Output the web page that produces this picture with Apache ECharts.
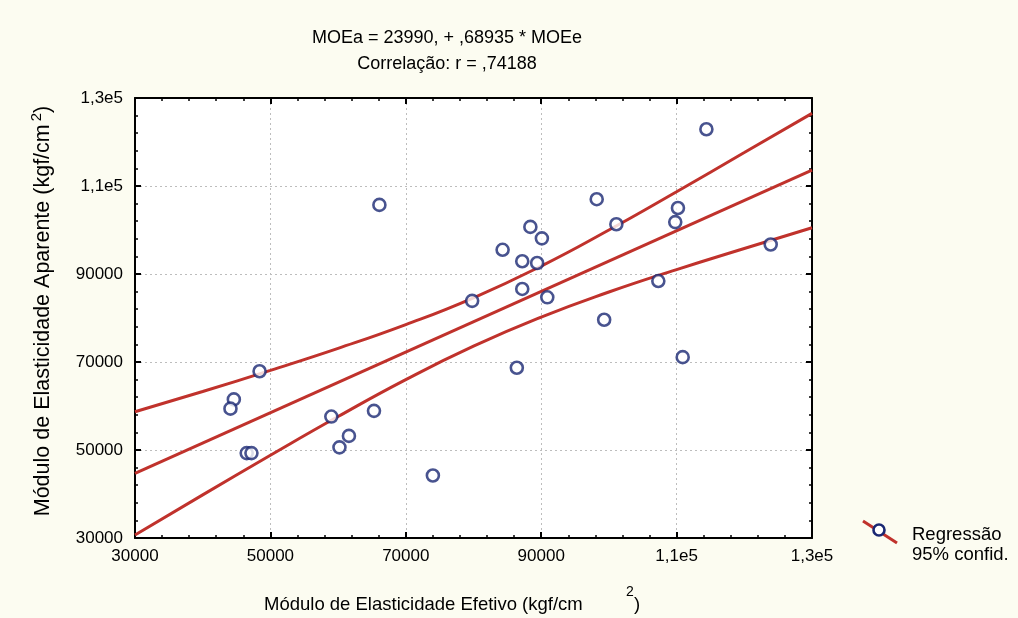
<!DOCTYPE html>
<html>
<head>
<meta charset="utf-8">
<script src="https://cdn.jsdelivr.net/npm/echarts@6/dist/echarts.min.js"></script>
<style>
  html, body { margin: 0; padding: 0; background: #fcfcf1; }
  #main { width: 1018px; height: 618px; }
</style>
</head>
<body>
<div id="main"></div>
<script>
// pontos medidos (MOEe, MOEa)
const moeE = [66100, 114400, 98200, 110200, 109800, 101100, 123900, 88400, 90100, 84300,
  87200, 89400, 79800, 87200, 90900, 107300, 99300, 86400, 110900, 48400,
  44600, 44100, 46500, 47200, 59000, 65300, 61600, 60200, 74000]
const moeA = [105700, 122900, 107000, 105000, 101800, 101300, 96700, 100700, 98100, 95500,
  92900, 92500, 83900, 86600, 84700, 88400, 79600, 68700, 71100, 67900,
  61500, 59400, 49300, 49300, 57600, 58900, 53200, 50600, 44200]

// reta de regressão: MOEa = 23990 + 0,68935 * MOEe
const regX = [30000, 130000]
const regY = [44670, 113606]

// faixas de confiança 95%
const bandX = [30000, 40000, 50000, 60000, 70000, 80000, 90000, 100000, 110000, 120000, 130000]
const bandUpper = [58700, 63300, 68100, 73100, 78500, 84600, 91800, 100000, 108700, 117600, 126500]
const bandLower = [30700, 39800, 48800, 57600, 66000, 73600, 80200, 85900, 91000, 95800, 100500]

// rótulos dos eixos
const xTickLabels = { 30000: '30000', 50000: '50000', 70000: '70000', 90000: '90000', 110000: '1,1e5', 130000: '1,3e5' }
const yTickLabels = { 30000: '30000', 50000: '50000', 70000: '70000', 90000: '90000', 110000: '1,1e5', 130000: '1,3e5' }

const font = "'Liberation Sans', Arial, sans-serif"
const red = '#c0322c'
const blue = '#1a2873'

const zip = (a, b) => a.map((v, i) => [v, b[i]])

function axisBase(pos, show) {
  return {
    type: 'value',
    position: pos,
    min: 30000,
    max: 130000,
    interval: 20000,
    axisLine: { show: true, onZero: false, lineStyle: { color: '#000', width: 2 } },
    axisTick: { show: true, inside: true, length: 6, lineStyle: { color: '#000', width: 2 } },
    minorTick: { show: true, splitNumber: 5, length: 3, lineStyle: { color: '#000', width: 1.5 } },
    splitLine: { show: false },
    axisLabel: { show: show }
  }
}

const xMain = axisBase('bottom', true)
xMain.axisLabel = {
  show: true, color: '#000', fontSize: 17, fontFamily: font, margin: 10,
  formatter: v => xTickLabels[v]
}
xMain.splitLine = { show: true, lineStyle: { color: '#bdbdbd', type: [2, 3], width: 1 } }

const yMain = axisBase('left', true)
yMain.axisLabel = {
  show: true, color: '#000', fontSize: 17, fontFamily: font, margin: 12,
  formatter: v => yTickLabels[v]
}
yMain.splitLine = { show: true, lineStyle: { color: '#bdbdbd', type: [2, 3], width: 1 } }

const myChart = echarts.init(document.getElementById('main'))
const option = {
  backgroundColor: '#fcfcf1',
  animation: false,
  title: [{
    text: 'MOEa = 23990, + ,68935 * MOEe',
    left: 442, top: 24, textAlign: 'center',
    textStyle: { fontSize: 18, fontWeight: 'normal', fontFamily: font, color: '#000' }
  }, {
    text: 'Correlação: r = ,74188',
    left: 442, top: 50, textAlign: 'center',
    textStyle: { fontSize: 18, fontWeight: 'normal', fontFamily: font, color: '#000' }
  }],
  grid: { left: 135, top: 98, right: 206, bottom: 80, show: true, backgroundColor: '#fff', borderWidth: 0 },
  xAxis: [xMain, axisBase('top', false)],
  yAxis: [yMain, axisBase('right', false)],
  series: [{
    type: 'line',
    data: zip(bandX, bandUpper),
    smooth: true,
    showSymbol: false,
    lineStyle: { color: red, width: 3 }
  }, {
    type: 'line',
    data: zip(regX, regY),
    showSymbol: false,
    lineStyle: { color: red, width: 3 }
  }, {
    type: 'line',
    data: zip(bandX, bandLower),
    smooth: true,
    showSymbol: false,
    lineStyle: { color: red, width: 3 }
  }, {
    type: 'scatter',
    data: zip(moeE, moeA),
    symbol: 'circle',
    symbolSize: 12,
    itemStyle: { color: '#fff', borderColor: blue, borderWidth: 2.6 },
    z: 5
  }],
  graphic: [{
    type: 'text',
    left: 264, top: 595,
    style: { text: 'Módulo de Elasticidade Efetivo (kgf/cm', fontSize: 18.5, fontFamily: font, fill: '#000' }
  }, {
    type: 'text',
    left: 626, top: 585,
    style: { text: '2', fontSize: 14, fontFamily: font, fill: '#000' }
  }, {
    type: 'text',
    left: 634, top: 595,
    style: { text: ')', fontSize: 18.5, fontFamily: font, fill: '#000' }
  }, {
    type: 'text',
    x: 43, y: 311,
    rotation: Math.PI / 2,
    style: {
      text: '{a|Módulo de Elasticidade Aparente (kgf/cm}{s|2}{a|)}',
      align: 'center', verticalAlign: 'middle',
      rich: {
        a: { fontSize: 21.5, fontFamily: font, color: '#000' },
        s: { fontSize: 15, fontFamily: font, color: '#000', padding: [0, 0, 13, 3] }
      }
    }
  }, {
    type: 'line',
    shape: { x1: 863, y1: 521, x2: 897, y2: 543 },
    style: { stroke: red, lineWidth: 3 }
  }, {
    type: 'circle',
    shape: { cx: 879, cy: 530, r: 5.5 },
    style: { fill: '#fff', stroke: blue, lineWidth: 2.6 }
  }, {
    type: 'text',
    left: 912, top: 525,
    style: { text: 'Regressão', fontSize: 18.5, fontFamily: font, fill: '#000' }
  }, {
    type: 'text',
    left: 912, top: 545,
    style: { text: '95% confid.', fontSize: 18.5, fontFamily: font, fill: '#000' }
  }]
}
myChart.setOption(option)
</script>
</body>
</html>
